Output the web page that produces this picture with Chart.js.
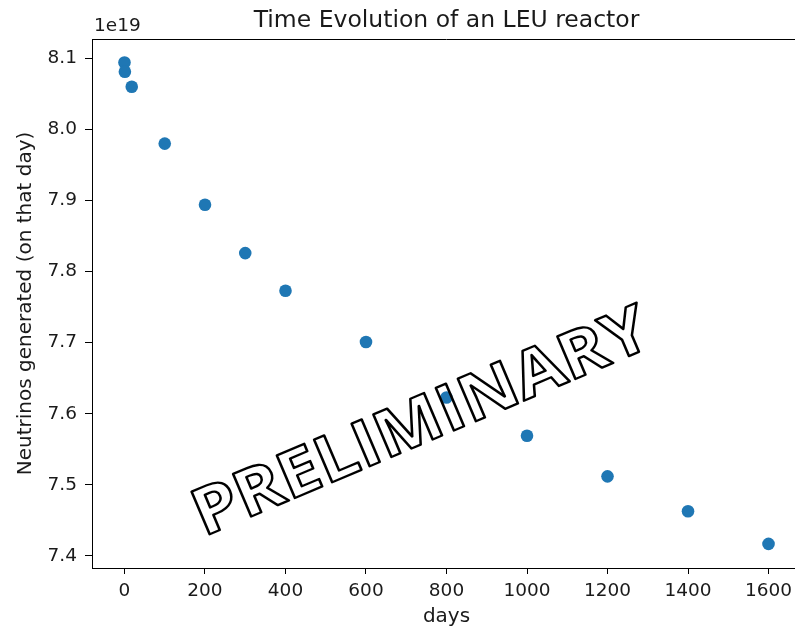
<!DOCTYPE html>
<html>
<head>
<meta charset="utf-8">
<script src="https://cdn.jsdelivr.net/npm/chart.js@4/dist/chart.umd.min.js"></script>
<style>
  html, body { margin:0; padding:0; background:#fff; overflow:hidden; }
  #wrap { width:810px; height:628px; }
</style>
</head>
<body>
<div id="wrap"><canvas id="canvas1" width="810" height="628"></canvas></div>
<script>
// days since start
var days = [0, 1, 18, 100, 200, 300, 400, 600, 800, 1000, 1200, 1400, 1600];
// neutrinos generated on that day, in units of 1e19
var neutrinos = [8.094, 8.081, 8.060, 7.980, 7.894, 7.826, 7.773, 7.701, 7.623, 7.569, 7.512, 7.463, 7.417];
var xTicks = [0, 200, 400, 600, 800, 1000, 1200, 1400, 1600];
var yTicks = [7.4, 7.5, 7.6, 7.7, 7.8, 7.9, 8.0, 8.1];

var FONT = "'DejaVu Sans', sans-serif";
var INK = '#1a1a1a';

function getPoints() {
  var pts = [];
  for (var i = 0; i < days.length; i++) {
    pts.push({x: days[i], y: neutrinos[i]});
  }
  return pts;
}

var extras = {
  id: 'extras',
  afterDraw: function(chart) {
    var ctx = chart.ctx;
    var a = chart.chartArea;
    ctx.save();
    // top and right spines
    ctx.strokeStyle = '#000';
    ctx.lineWidth = 1;
    ctx.beginPath();
    ctx.moveTo(a.left, a.top + 0.5);
    ctx.lineTo(a.right, a.top + 0.5);
    ctx.moveTo(a.right - 0.5, a.top);
    ctx.lineTo(a.right - 0.5, a.bottom);
    ctx.stroke();
    // title
    ctx.fillStyle = INK;
    ctx.font = '23.5px ' + FONT;
    ctx.textAlign = 'center';
    ctx.textBaseline = 'alphabetic';
    ctx.fillText('Time Evolution of an LEU reactor', (a.left + a.right) / 2, 27);
    // offset text
    ctx.font = '18.5px ' + FONT;
    ctx.textAlign = 'left';
    ctx.fillText('1e19', a.left + 2, 31);
    // watermark
    ctx.translate(422, 424);
    ctx.rotate(-23 * Math.PI / 180);
    ctx.scale(1.0, 0.9);
    ctx.font = 'bold 72px "Open Sans", sans-serif';
    ctx.textAlign = 'center';
    ctx.textBaseline = 'middle';
    ctx.lineWidth = 2.6;
    ctx.lineJoin = 'round';
    ctx.strokeStyle = '#000';
    ctx.strokeText('PRELIMINARY', 0, 0);
    ctx.restore();
  }
};

var ctx1 = document.getElementById('canvas1');
var myChart1 = new Chart(ctx1, {
  type: 'scatter',
  data: {
    datasets: [{
      label: 'Neutrinos',
      data: getPoints(),
      backgroundColor: '#1f77b4',
      borderColor: '#1f77b4',
      pointRadius: 6.3,
      pointHoverRadius: 6.3,
      borderWidth: 0
    }]
  },
  options: {
    responsive: false,
    animation: false,
    devicePixelRatio: 1,
    layout: { padding: { top: 39, right: 9, left: 0, bottom: 0 } },
    plugins: { legend: { display: false }, tooltip: { enabled: false } },
    scales: {
      x: {
        type: 'linear',
        min: -80.7,
        max: 1680.7,
        afterBuildTicks: function(s) { s.ticks = xTicks.map(function(v) { return {value: v}; }); },
        afterFit: function(s) { s.height = 60; },
        border: { display: true, color: '#000', width: 1 },
        grid: { drawOnChartArea: false, drawTicks: true, tickLength: 6, tickColor: '#000' },
        ticks: { color: INK, font: { family: FONT, size: 18.5 }, padding: 6, maxRotation: 0, autoSkip: false,
          callback: function(v) { return String(v); } },
        title: { display: true, text: 'days', color: INK, font: { family: FONT, size: 20 }, padding: { top: 0, bottom: -1 } }
      },
      y: {
        type: 'linear',
        min: 7.3831,
        max: 8.1271,
        afterBuildTicks: function(s) { s.ticks = yTicks.map(function(v) { return {value: v}; }); },
        afterFit: function(s) { s.width = 92; },
        border: { display: true, color: '#000', width: 1 },
        grid: { drawOnChartArea: false, drawTicks: true, tickLength: 7, tickColor: '#000' },
        ticks: { color: INK, font: { family: FONT, size: 18.5 }, padding: 8, autoSkip: false,
          callback: function(v) { return v.toFixed(1); } },
        title: { display: true, text: 'Neutrinos generated (on that day)', color: INK, font: { family: FONT, size: 20 }, padding: { top: 14, bottom: 0 } }
      }
    }
  },
  plugins: [extras]
});
</script>
</body>
</html>
